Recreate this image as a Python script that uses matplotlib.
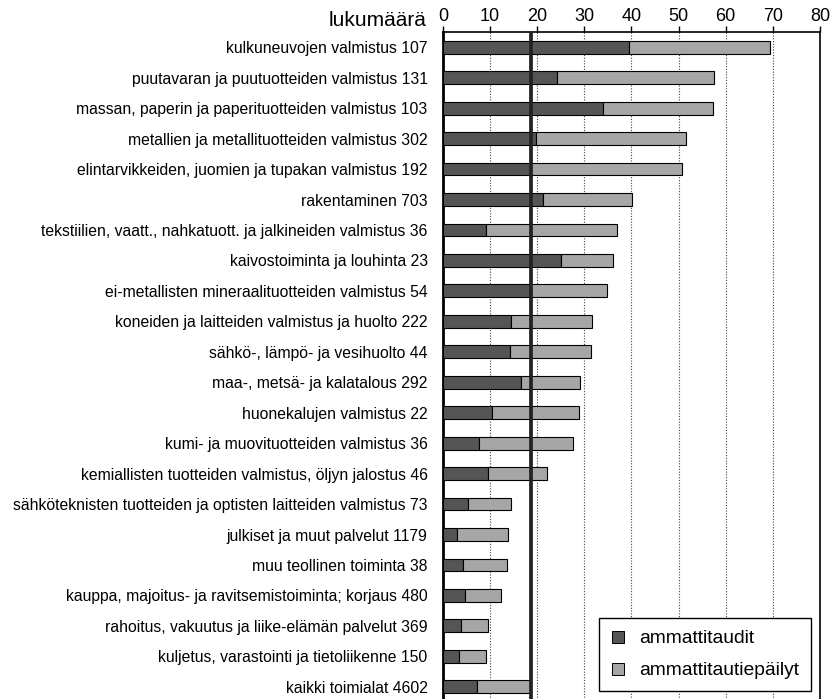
import matplotlib
matplotlib.use("Agg")
import matplotlib.pyplot as plt
from matplotlib.lines import Line2D

plt.rcParams['font.family'] = ['Liberation Sans', 'DejaVu Sans']

# toimialat (ylhäältä alas) ja tapausmäärät
categories = [
    "kulkuneuvojen valmistus 107",
    "puutavaran ja puutuotteiden valmistus 131",
    "massan, paperin ja paperituotteiden valmistus 103",
    "metallien ja metallituotteiden valmistus 302",
    "elintarvikkeiden, juomien ja tupakan valmistus 192",
    "rakentaminen 703",
    "tekstiilien, vaatt., nahkatuott. ja jalkineiden valmistus 36",
    "kaivostoiminta ja louhinta 23",
    "ei-metallisten mineraalituotteiden valmistus 54",
    "koneiden ja laitteiden valmistus ja huolto 222",
    "sähkö-, lämpö- ja vesihuolto 44",
    "maa-, metsä- ja kalatalous 292",
    "huonekalujen valmistus 22",
    "kumi- ja muovituotteiden valmistus 36",
    "kemiallisten tuotteiden valmistus, öljyn jalostus 46",
    "sähköteknisten tuotteiden ja optisten laitteiden valmistus 73",
    "julkiset ja muut palvelut 1179",
    "muu teollinen toiminta 38",
    "kauppa, majoitus- ja ravitsemistoiminta; korjaus 480",
    "rahoitus, vakuutus ja liike-elämän palvelut 369",
    "kuljetus, varastointi ja tietoliikenne 150",
    "kaikki toimialat 4602",
]

ammattitaudit = [39.5, 24.2, 34.0, 19.7, 18.4, 21.2, 9.2, 25.0, 18.6, 14.5, 14.3,
                 16.6, 10.5, 7.6, 9.6, 5.3, 3.0, 4.2, 4.6, 3.9, 3.5, 7.3]
yhteensa = [69.4, 57.6, 57.3, 51.6, 50.7, 40.0, 36.9, 36.0, 34.7, 31.7, 31.4,
            29.0, 28.9, 27.5, 22.1, 14.4, 13.7, 13.5, 12.3, 9.6, 9.2, 18.4]
epailyt = [t - a for t, a in zip(yhteensa, ammattitaudit)]

keskiarvo = 18.6

dark = '#555555'
light = '#a6a6a6'

fig = plt.figure(figsize=(8.36, 6.99), dpi=100)
ax = fig.add_axes([443 / 836, -3 / 699, 377 / 836, 670 / 699])

y = list(range(len(categories)))
ax.barh(y, ammattitaudit, height=0.42, color=dark, edgecolor='black', linewidth=0.8, zorder=3)
ax.barh(y, epailyt, left=ammattitaudit, height=0.42, color=light, edgecolor='black',
        linewidth=0.8, zorder=3)

ax.axvline(keskiarvo, color='#222222', linewidth=2.7, zorder=4)

ax.set_xlim(0, 80)
ax.set_ylim(len(categories) - 0.5, -0.5)
ax.set_yticks(y)
ax.set_yticklabels(categories, fontsize=11.3)
ax.tick_params(axis='y', length=0, pad=11)

ax.xaxis.tick_top()
ax.set_xticks(range(0, 81, 10))
ax.tick_params(axis='x', labelsize=13, length=4, width=1, pad=1)
for x in range(10, 80, 10):
    ax.axvline(x, color='#444444', linestyle=(0, (1, 1.5)), linewidth=0.8, zorder=1)

for side in ['top', 'right', 'bottom']:
    ax.spines[side].set_linewidth(1.2)
ax.spines['left'].set_linewidth(2)

fig.text(427 / 836, 1 - 20 / 699, "lukumäärä", fontsize=15, ha='right', va='center')

handles = [
    Line2D([], [], marker='s', linestyle='none', markersize=8, markerfacecolor=dark,
           markeredgecolor='black', markeredgewidth=0.7),
    Line2D([], [], marker='s', linestyle='none', markersize=8, markerfacecolor=light,
           markeredgecolor='black', markeredgewidth=0.7),
]
leg = ax.legend(handles, ["ammattitaudit", "ammattitautiepäilyt"], loc='lower right',
                bbox_to_anchor=(811 / 836, 8 / 699), bbox_transform=fig.transFigure,
                fontsize=13.9, fancybox=False, framealpha=1, edgecolor='black',
                handlelength=0.8, handletextpad=0.7, labelspacing=0.75, borderpad=0.6,
                borderaxespad=0)
leg.get_frame().set_linewidth(1)
leg.set_zorder(10)

fig.savefig("out.png", dpi=100)
